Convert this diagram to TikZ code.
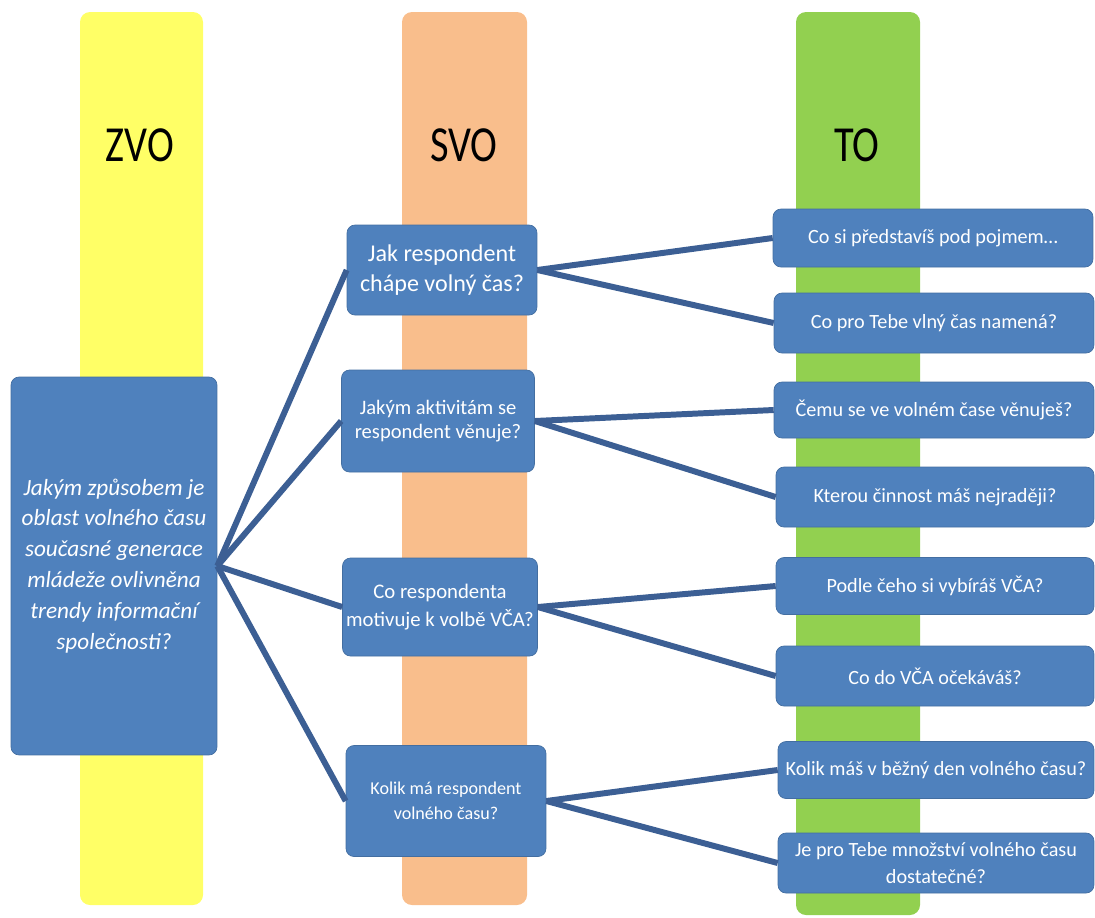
\documentclass[tikz,border=0pt]{standalone}
\usepackage{fontspec}
\setmainfont{Carlito}

\definecolor{boxblue}{HTML}{4F81BD}
\definecolor{lineblue}{HTML}{3C5F94}
\definecolor{zvoyellow}{HTML}{FFFF66}
\definecolor{svoorange}{HTML}{F9BE8C}
\definecolor{togreen}{HTML}{92D050}

\begin{document}
\begin{tikzpicture}[x=0.02cm, y=-0.02cm,
  qbox/.style={draw=boxblue!85!black, line width=0.4pt, fill=boxblue, rounded corners=0.16cm,
    text=white, align=center, inner sep=0pt},
  bar/.style={rounded corners=0.2cm},
  head/.style={font=\fontsize{23}{28}\selectfont, yscale=1.25, transform shape},
  link/.style={draw=lineblue, line width=3.4pt}]

\useasboundingbox (0,0) rectangle (1095,917);

\fill[bar, zvoyellow] (80,12) rectangle (203,905);
\fill[bar, svoorange] (402,12) rectangle (527,905);
\fill[bar, togreen] (796,12) rectangle (920,915);

\node[head] (zvoh) at (140,145) {ZVO};
\node[head] (svoh) at (464,145) {SVO};
\node[head] (toh) at (857,145) {TO};

\node[qbox, minimum width=4.12cm, minimum height=7.56cm, font=\itshape\fontsize{13.2}{17.6}\selectfont] (zvoq) at (114,566)
  {Jakým způsobem je\\oblast volného času\\současné generace\\mládeže ovlivněna\\trendy informační\\společnosti?};

\node[qbox, minimum width=3.8cm, minimum height=1.8cm, font=\fontsize{13.7}{17}\selectfont] (svoA) at (442,270)
  {Jak respondent\\chápe volný čas?};
\node[qbox, minimum width=3.86cm, minimum height=2.04cm, font=\fontsize{11.7}{14}\selectfont] (svoB) at (438,421)
  {Jakým aktivitám se\\respondent věnuje?};
\node[qbox, minimum width=3.9cm, minimum height=1.96cm, font=\fontsize{11.8}{16}\selectfont] (svoC) at (440,607)
  {Co respondenta\\motivuje k volbě VČA?};
\node[qbox, minimum width=4cm, minimum height=2.22cm, font=\fontsize{10.3}{14}\selectfont] (svoD) at (446,801)
  {Kolik má respondent\\volného času?};

\node[qbox, minimum width=6.4cm, minimum height=1.16cm, font=\fontsize{11.5}{15}\selectfont] (toA) at (933,238)
  {Co si představíš pod pojmem\dots};
\node[qbox, minimum width=6.4cm, minimum height=1.2cm, font=\fontsize{11.5}{15}\selectfont] (toB) at (934,323)
  {Co pro Tebe vlný čas namená?};
\node[qbox, minimum width=6.4cm, minimum height=1.12cm, font=\fontsize{11.5}{15}\selectfont] (toC) at (934,410)
  {Čemu se ve volném čase věnuješ?};
\node[qbox, minimum width=6.36cm, minimum height=1.2cm, font=\fontsize{11.5}{15}\selectfont] (toD) at (935,497)
  {Kterou činnost máš nejraději?};
\node[qbox, minimum width=6.36cm, minimum height=1.14cm, font=\fontsize{11.5}{15}\selectfont] (toE) at (935,586)
  {Podle čeho si vybíráš VČA?};
\node[qbox, minimum width=6.36cm, minimum height=1.2cm, font=\fontsize{11.5}{15}\selectfont] (toF) at (935,676)
  {Co do VČA očekáváš?};
\node[qbox, minimum width=6.32cm, minimum height=1.14cm, font=\fontsize{11.5}{15}\selectfont] (toG) at (936,770)
  {Kolik máš v běžný den volného času?};
\node[qbox, minimum width=6.32cm, minimum height=1.2cm, font=\fontsize{11.5}{15.5}\selectfont] (toH) at (936,863)
  {Je pro Tebe množství volného času\\dostatečné?};

\draw[link] (zvoq.east) -- (svoA.west);
\draw[link] (zvoq.east) -- (svoB.west);
\draw[link] (zvoq.east) -- (svoC.west);
\draw[link] (zvoq.east) -- (svoD.west);

\draw[link] (svoA.east) -- (toA.west);
\draw[link] (svoA.east) -- (toB.west);
\draw[link] (svoB.east) -- (toC.west);
\draw[link] (svoB.east) -- (toD.west);
\draw[link] (svoC.east) -- (toE.west);
\draw[link] (svoC.east) -- (toF.west);
\draw[link] (svoD.east) -- (toG.west);
\draw[link] (svoD.east) -- (toH.west);

\end{tikzpicture}
\end{document}
